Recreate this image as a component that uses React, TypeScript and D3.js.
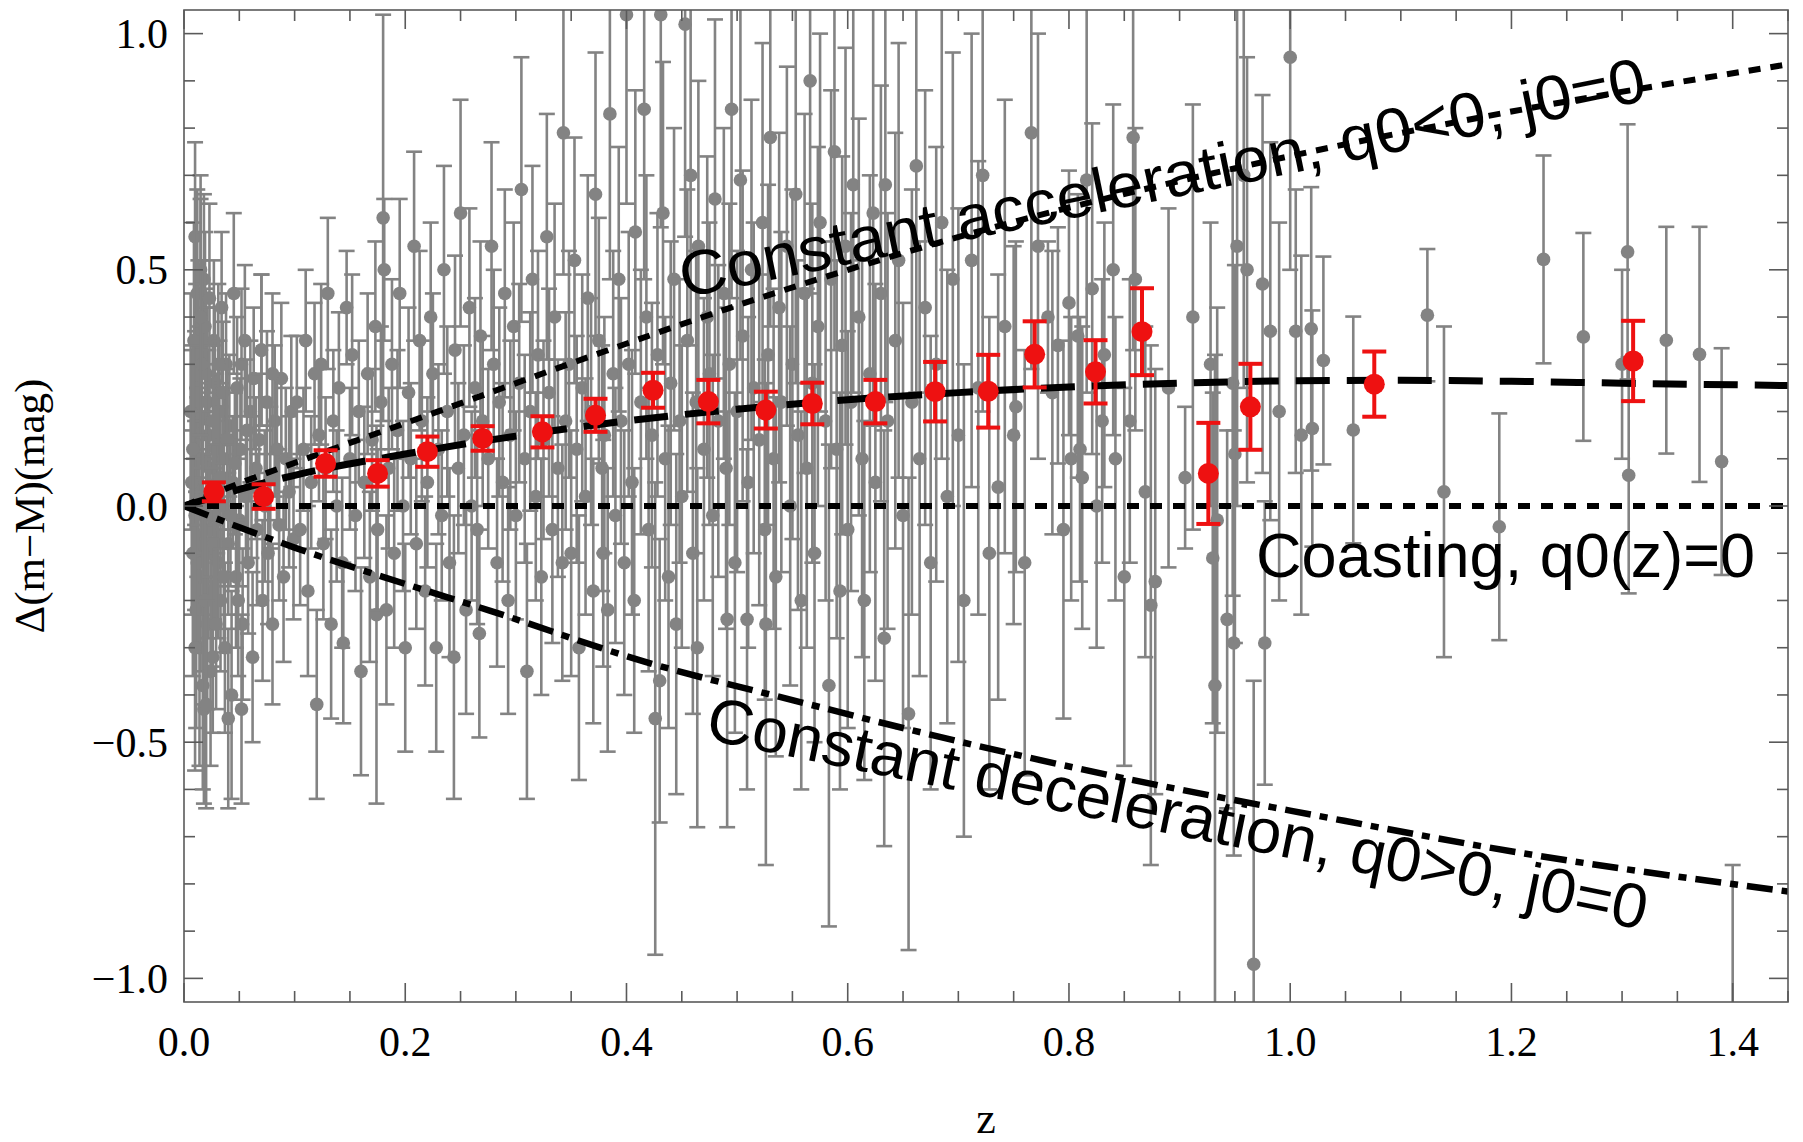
import React from "react";
import * as d3 from "d3";

const W = 1803;
const H = 1142;

// axis ticks
const xMajor = [0, 0.2, 0.4, 0.6, 0.8, 1.0, 1.2, 1.4];
const xLabels = ["0.0", "0.2", "0.4", "0.6", "0.8", "1.0", "1.2", "1.4"];
const yMajor = [-1, -0.5, 0, 0.5, 1];
const yLabels = ["\u22121.0", "\u22120.5", "0.0", "0.5", "1.0"];

// binned data (red)
const redZ = [0.027, 0.072, 0.128, 0.175, 0.22, 0.27, 0.324, 0.372, 0.424, 0.474, 0.526, 0.568, 0.625, 0.679, 0.727, 0.769, 0.824, 0.866, 0.926, 0.964, 1.076, 1.31];
const redD = [0.03, 0.02, 0.09, 0.069, 0.115, 0.143, 0.157, 0.192, 0.245, 0.221, 0.203, 0.217, 0.221, 0.242, 0.243, 0.321, 0.284, 0.369, 0.069, 0.21, 0.258, 0.307];
const redErr = [0.02, 0.026, 0.028, 0.028, 0.032, 0.026, 0.033, 0.035, 0.037, 0.046, 0.039, 0.044, 0.046, 0.063, 0.077, 0.07, 0.067, 0.092, 0.107, 0.091, 0.069, 0.085];

// individual SNe (gray): [z, delta, sigma]
const grayLowZ: number[][] = [
  [0.010, 0.57, 0.20], [0.012, 0.45, 0.22], [0.015, 0.50, 0.20], [0.018, 0.48, 0.18], [0.013, 0.32, 0.20],
  [0.011, 0.25, 0.22], [0.014, 0.18, 0.20], [0.016, 0.10, 0.22], [0.012, 0.05, 0.20], [0.010, -0.02, 0.20],
  [0.013, -0.08, 0.22], [0.015, -0.15, 0.20], [0.011, -0.22, 0.25], [0.014, -0.30, 0.25], [0.017, -0.38, 0.22],
  [0.012, -0.12, 0.18], [0.019, 0.38, 0.20], [0.020, 0.28, 0.18], [0.021, 0.22, 0.20], [0.022, 0.15, 0.18],
  [0.023, 0.08, 0.18], [0.020, 0.02, 0.18], [0.024, -0.05, 0.16], [0.022, -0.10, 0.18], [0.025, -0.18, 0.16],
  [0.021, -0.25, 0.18], [0.026, -0.32, 0.16], [0.018, -0.43, 0.20], [0.027, 0.35, 0.17], [0.028, 0.26, 0.16],
  [0.029, 0.12, 0.16], [0.030, 0.05, 0.15], [0.028, -0.02, 0.15], [0.031, -0.12, 0.16], [0.032, 0.20, 0.15],
  [0.033, -0.20, 0.15], [0.034, 0.42, 0.16], [0.035, 0.00, 0.14], [0.036, 0.10, 0.15], [0.037, -0.30, 0.18],
  [0.038, 0.30, 0.15], [0.040, -0.08, 0.15], [0.041, 0.17, 0.15], [0.043, -0.40, 0.22], [0.044, 0.05, 0.14],
  [0.045, 0.45, 0.17], [0.047, -0.15, 0.15], [0.048, 0.25, 0.15], [0.050, -0.03, 0.14], [0.051, 0.12, 0.15],
  [0.053, -0.25, 0.16], [0.055, 0.35, 0.16], [0.056, 0.02, 0.14], [0.058, -0.12, 0.15], [0.060, 0.20, 0.15],
  [0.062, -0.32, 0.18], [0.063, 0.27, 0.15], [0.065, 0.08, 0.15], [0.066, -0.05, 0.16], [0.068, 0.14, 0.14],
  [0.070, 0.33, 0.16], [0.071, -0.20, 0.17], [0.073, 0.00, 0.16], [0.075, 0.22, 0.15], [0.076, -0.10, 0.15],
  [0.078, 0.06, 0.15], [0.080, -0.25, 0.17], [0.082, 0.18, 0.16], [0.084, 0.12, 0.15], [0.086, -0.04, 0.16],
  [0.088, 0.27, 0.16], [0.090, -0.15, 0.18], [0.092, 0.10, 0.15], [0.095, 0.03, 0.16], [0.097, 0.20, 0.16],
  [0.099, -0.07, 0.17], [0.006, 0.20, 0.25], [0.007, 0.05, 0.28], [0.008, -0.10, 0.26], [0.009, 0.35, 0.25],
  [0.008, 0.12, 0.22], [0.010, -0.30, 0.26], [0.016, 0.30, 0.22], [0.017, 0.00, 0.20], [0.019, -0.20, 0.22],
  [0.015, 0.40, 0.25], [0.023, 0.44, 0.20], [0.024, -0.35, 0.20], [0.026, 0.18, 0.16], [0.027, -0.08, 0.16],
  [0.029, -0.25, 0.18], [0.031, 0.30, 0.17], [0.033, 0.06, 0.15], [0.035, 0.24, 0.15], [0.036, -0.15, 0.16],
  [0.039, 0.14, 0.15], [0.042, -0.02, 0.15], [0.046, 0.09, 0.15], [0.049, -0.20, 0.16], [0.052, 0.30, 0.16],
  [0.057, 0.16, 0.15], [0.061, 0.04, 0.15], [0.020, -0.42, 0.22], [0.052, -0.43, 0.20], [0.040, -0.45, 0.19],
  [0.070, 0.33, 0.16], [0.080, 0.28, 0.17],
];

const grayMidZ: number[][] = [
  [0.102, 0.22, 0.14], [0.105, -0.05, 0.16], [0.108, 0.12, 0.13], [0.110, 0.35, 0.15], [0.112, -0.18, 0.18],
  [0.115, 0.05, 0.14], [0.118, 0.28, 0.15], [0.120, -0.42, 0.20], [0.122, 0.15, 0.14], [0.124, 0.30, 0.17],
  [0.126, -0.08, 0.16], [0.128, 0.08, 0.15], [0.130, 0.45, 0.16], [0.133, -0.25, 0.20], [0.135, 0.18, 0.15],
  [0.138, 0.00, 0.16], [0.140, 0.25, 0.16], [0.143, -0.12, 0.18], [0.144, -0.29, 0.17], [0.147, 0.42, 0.12],
  [0.150, 0.10, 0.15], [0.152, 0.32, 0.17], [0.155, -0.02, 0.16], [0.158, 0.20, 0.15], [0.160, -0.35, 0.22],
  [0.163, 0.05, 0.16], [0.166, 0.28, 0.17], [0.168, -0.15, 0.18], [0.170, 0.14, 0.15], [0.173, 0.38, 0.18],
  [0.174, -0.23, 0.40], [0.175, -0.05, 0.17], [0.178, 0.22, 0.16], [0.180, 0.61, 0.43], [0.181, 0.50, 0.15],
  [0.183, -0.22, 0.20], [0.185, 0.08, 0.17], [0.188, 0.30, 0.18], [0.190, -0.10, 0.20], [0.193, 0.16, 0.17],
  [0.195, 0.45, 0.20], [0.198, 0.00, 0.18], [0.200, -0.30, 0.22], [0.203, 0.24, 0.18], [0.205, 0.10, 0.16],
  [0.208, 0.55, 0.20], [0.210, -0.08, 0.18], [0.213, 0.35, 0.19], [0.215, 0.18, 0.17], [0.218, -0.18, 0.20],
  [0.220, 0.05, 0.18], [0.223, 0.40, 0.20], [0.225, 0.28, 0.17], [0.228, -0.30, 0.22], [0.230, 0.12, 0.18],
  [0.233, -0.02, 0.18], [0.235, 0.50, 0.22], [0.238, 0.20, 0.18], [0.240, -0.12, 0.20], [0.244, -0.32, 0.30],
  [0.245, 0.33, 0.20], [0.248, 0.08, 0.18], [0.250, 0.62, 0.24], [0.253, 0.15, 0.19], [0.255, -0.22, 0.22],
  [0.258, 0.42, 0.21], [0.260, 0.00, 0.20], [0.263, 0.25, 0.19], [0.265, -0.05, 0.20], [0.267, -0.27, 0.22],
  [0.268, 0.36, 0.20], [0.270, 0.18, 0.18], [0.275, 0.10, 0.19], [0.278, 0.55, 0.22], [0.280, 0.30, 0.20],
  [0.283, -0.12, 0.22], [0.285, 0.22, 0.20], [0.288, 0.05, 0.21], [0.290, 0.45, 0.22], [0.293, -0.20, 0.24],
  [0.295, 0.15, 0.20], [0.298, 0.38, 0.22], [0.300, -0.02, 0.22], [0.303, 0.26, 0.21], [0.305, 0.67, 0.28],
  [0.308, 0.10, 0.22], [0.310, -0.35, 0.27], [0.313, 0.20, 0.21], [0.315, 0.48, 0.24], [0.318, 0.02, 0.22],
  [0.320, 0.32, 0.22], [0.323, -0.15, 0.25], [0.325, 0.14, 0.21], [0.328, 0.57, 0.26], [0.330, 0.24, 0.22],
  [0.333, -0.05, 0.24], [0.335, 0.40, 0.24], [0.338, 0.08, 0.23], [0.342, -0.12, 0.25], [0.343, 0.79, 0.30],
  [0.345, 0.18, 0.23], [0.348, 0.30, 0.24], [0.350, -0.10, 0.26], [0.353, 0.52, 0.26], [0.355, 0.12, 0.24],
  [0.357, -0.30, 0.28], [0.360, 0.25, 0.24], [0.363, 0.02, 0.25], [0.365, 0.44, 0.26], [0.368, 0.20, 0.24],
  [0.370, -0.18, 0.28], [0.372, 0.66, 0.30], [0.375, 0.35, 0.26], [0.378, 0.08, 0.26], [0.379, -0.10, 0.24],
  [0.380, 0.15, 0.25], [0.383, -0.22, 0.30], [0.385, 0.83, 0.35], [0.388, 0.28, 0.26], [0.390, -0.02, 0.27],
  [0.393, 0.48, 0.28], [0.395, 0.18, 0.26], [0.398, -0.12, 0.28],
];

const grayHighZ: number[][] = [
  [0.400, 1.04, 0.40], [0.402, 0.30, 0.28], [0.405, 0.05, 0.28], [0.407, -0.20, 0.28], [0.408, 0.58, 0.30],
  [0.413, 0.22, 0.28], [0.416, 0.84, 0.36], [0.418, 0.40, 0.30], [0.420, -0.05, 0.30], [0.423, 0.15, 0.28],
  [0.426, -0.45, 0.50], [0.428, 0.32, 0.30], [0.430, -0.37, 0.30], [0.431, 1.04, 0.45], [0.433, 0.62, 0.32],
  [0.435, 0.10, 0.30], [0.438, -0.15, 0.32], [0.440, 0.26, 0.30], [0.443, 0.48, 0.32], [0.445, -0.25, 0.36],
  [0.448, 0.18, 0.30], [0.450, 0.02, 0.32], [0.453, 1.02, 0.45], [0.455, 0.35, 0.32], [0.458, 0.70, 0.36],
  [0.460, -0.10, 0.34], [0.463, 0.22, 0.32], [0.464, -0.30, 0.38], [0.465, 0.55, 0.35], [0.470, 0.12, 0.32],
  [0.473, 0.40, 0.34], [0.475, 0.28, 0.32], [0.478, -0.02, 0.34], [0.480, 0.65, 0.38], [0.483, 0.18, 0.33],
  [0.488, 0.45, 0.35], [0.490, 0.08, 0.34], [0.491, -0.24, 0.44], [0.493, 0.30, 0.34], [0.495, 0.84, 0.40],
  [0.498, -0.12, 0.36], [0.500, 0.20, 0.34], [0.503, 0.69, 0.38], [0.505, 0.36, 0.35], [0.509, -0.24, 0.36],
  [0.510, 0.05, 0.35], [0.513, 0.50, 0.36], [0.515, 0.25, 0.35], [0.520, 0.14, 0.35], [0.523, 0.60, 0.38],
  [0.525, -0.05, 0.36], [0.526, -0.25, 0.51], [0.528, 0.32, 0.36], [0.530, 0.78, 0.40], [0.533, 0.10, 0.36],
  [0.535, -0.15, 0.38], [0.538, 0.42, 0.37], [0.540, 0.22, 0.36], [0.545, 0.55, 0.38], [0.548, 0.00, 0.38],
  [0.550, 0.30, 0.37], [0.553, 0.66, 0.40], [0.555, 0.15, 0.37], [0.558, -0.20, 0.40], [0.561, 0.45, 0.38],
  [0.563, 0.08, 0.38], [0.566, 0.90, 0.45], [0.568, 0.26, 0.38], [0.570, -0.10, 0.40], [0.573, 0.38, 0.38],
  [0.575, 0.60, 0.40], [0.580, 0.18, 0.38], [0.583, -0.38, 0.51], [0.585, 0.48, 0.40], [0.588, 0.75, 0.42],
  [0.590, 0.12, 0.40], [0.593, -0.18, 0.42], [0.595, 0.34, 0.40], [0.598, 0.55, 0.42], [0.600, -0.05, 0.42],
  [0.603, 0.22, 0.40], [0.605, 0.68, 0.44], [0.610, 0.40, 0.42], [0.613, 0.10, 0.42], [0.615, -0.20, 0.38],
  [0.620, 0.28, 0.42], [0.623, 0.62, 0.45], [0.625, 0.05, 0.42], [0.630, 0.45, 0.44], [0.633, -0.28, 0.44],
  [0.634, 0.68, 0.46], [0.636, 0.18, 0.44], [0.643, 0.35, 0.44], [0.646, 0.52, 0.46], [0.650, -0.02, 0.45],
  [0.655, -0.44, 0.50], [0.658, 0.22, 0.45], [0.662, 0.72, 0.48], [0.665, 0.10, 0.46], [0.670, 0.42, 0.46],
  [0.675, -0.12, 0.48], [0.680, 0.30, 0.46], [0.685, 0.60, 0.50], [0.690, 0.02, 0.48], [0.695, 0.48, 0.48],
  [0.700, 0.15, 0.48], [0.705, -0.20, 0.50], [0.712, 0.52, 0.48], [0.718, 0.25, 0.48], [0.722, 0.70, 0.50],
  [0.728, -0.10, 0.50], [0.736, 0.04, 0.45], [0.742, 0.38, 0.48], [0.750, 0.15, 0.40], [0.752, 0.21, 0.35],
  [0.760, -0.12, 0.45], [0.766, 0.79, 0.50], [0.772, 0.55, 0.45], [0.781, 0.40, 0.16], [0.785, 0.24, 0.30],
  [0.790, 0.34, 0.25], [0.795, -0.05, 0.40], [0.800, 0.43, 0.28], [0.802, 0.10, 0.30], [0.808, 0.36, 0.30],
  [0.810, 0.12, 0.28], [0.812, 0.06, 0.32], [0.816, 0.69, 0.45], [0.821, 0.46, 0.35], [0.825, 0.00, 0.30],
  [0.830, 0.18, 0.30], [0.832, 0.32, 0.28], [0.840, 0.50, 0.35], [0.842, 0.10, 0.30], [0.850, -0.15, 0.40],
  [0.855, 0.18, 0.30], [0.858, 0.78, 0.45], [0.860, 0.48, 0.32], [0.869, 0.03, 0.35], [0.874, -0.21, 0.55],
  [0.878, -0.16, 0.45], [0.890, 0.25, 0.38], [0.905, 0.06, 0.15], [0.912, 0.40, 0.45], [0.928, 0.30, 0.30],
  [0.930, -0.11, 0.35], [0.932, -0.38, 0.70], [0.934, -0.03, 0.45], [0.943, -0.24, 0.40], [0.948, 0.26, 0.45],
  [0.949, -0.29, 0.45], [0.950, 0.11, 0.40], [0.952, 0.55, 0.55], [0.958, 0.70, 0.45], [0.961, 0.50, 0.45],
  [0.967, -0.97, 0.60], [0.975, 0.47, 0.40], [0.977, -0.29, 0.30], [0.982, 0.37, 0.40], [0.990, 0.20, 0.40],
  [1.000, 0.95, 0.45], [1.005, 0.37, 0.30], [1.010, 0.15, 0.38], [1.019, 0.375, 0.30], [1.020, 0.164, 0.25],
  [1.030, 0.308, 0.22], [1.057, 0.161, 0.24], [1.124, 0.404, 0.14], [1.139, 0.03, 0.35], [1.189, -0.044, 0.24],
  [1.229, 0.522, 0.22], [1.265, 0.358, 0.22], [1.300, 0.30, 0.20], [1.305, 0.538, 0.27], [1.306, 0.065, 0.25],
  [1.340, 0.351, 0.24], [1.370, 0.321, 0.27], [1.390, 0.094, 0.24], [1.400, -1.15, 0.39],
];

// model curves
const accelZ = [0, 0.05, 0.115, 0.233, 0.375, 0.493, 0.68, 0.977, 1.2, 1.45];
const accelD = [0, 0.048, 0.104, 0.203, 0.323, 0.419, 0.556, 0.729, 0.835, 0.935];
const fitZ = [0, 0.05, 0.1, 0.2, 0.3, 0.4, 0.5, 0.6, 0.7, 0.8, 0.9, 1.0, 1.1, 1.2, 1.3, 1.45];
const fitD = [0, 0.035, 0.065, 0.11, 0.148, 0.18, 0.205, 0.225, 0.24, 0.252, 0.26, 0.265, 0.266, 0.264, 0.26, 0.255];
const coastZ = [0, 1.45];
const coastD = [0, 0];
const decelZ = [0, 0.05, 0.1, 0.2, 0.277, 0.417, 0.557, 0.65, 0.837, 1.023, 1.21, 1.45];
const decelD = [0, -0.045, -0.088, -0.165, -0.222, -0.33, -0.415, -0.47, -0.57, -0.655, -0.735, -0.816];

const GRAY = "#838383";
const RED = "#ee1111";
const FRAME = "#5a5a5a";
const SERIF = "'Liberation Serif', 'Times New Roman', serif";
const SANS = "'Liberation Sans', Arial, sans-serif";

export default function App() {
  const x = d3.scaleLinear().domain([0, 1.45]).range([184, 1788]);
  const y = d3.scaleLinear().domain([-1.05, 1.05]).range([1002, 10]);
  const [x0, x1] = x.range();
  const [y0, y1] = y.range();

  const line = d3.line<number>().curve(d3.curveMonotoneX);
  const mk = (zs: number[], ds: number[]) =>
    line.x((_, i) => x(zs[i])).y((_, i) => y(ds[i]))(zs) || "";

  const gray = [...grayLowZ, ...grayMidZ, ...grayHighZ];

  const xMinor = d3.range(0.05, 1.451, 0.05).filter((v) => Math.abs(v / 0.2 - Math.round(v / 0.2)) > 1e-6);
  const yMinor = d3.range(-1.0, 1.001, 0.1).filter((v) => Math.abs(v / 0.5 - Math.round(v / 0.5)) > 1e-6);

  const gCap = 8;
  const rCap = 12;

  return (
    <svg width={W} height={H} style={{ position: "absolute", left: 0, top: 0, background: "#fff" }}>
      <defs>
        <clipPath id="plot">
          <rect x={x0} y={y1} width={x1 - x0} height={y0 - y1} />
        </clipPath>
      </defs>
      <rect x={0} y={0} width={W} height={H} fill="#fff" />

      <g clipPath="url(#plot)">
        {/* gray individual points */}
        <g stroke={GRAY} strokeWidth={2.6} fill={GRAY}>
          {gray.map((p, i) => {
            const cx = x(p[0]);
            const top = y(p[1] + p[2]);
            const bot = y(p[1] - p[2]);
            return (
              <g key={"g" + i}>
                <line x1={cx} x2={cx} y1={top} y2={bot} />
                <line x1={cx - gCap} x2={cx + gCap} y1={top} y2={top} />
                <line x1={cx - gCap} x2={cx + gCap} y1={bot} y2={bot} />
                <circle cx={cx} cy={y(p[1])} r={6.8} stroke="none" />
              </g>
            );
          })}
        </g>

        {/* model curves */}
        <path d={mk(accelZ, accelD)} fill="none" stroke="#000" strokeWidth={6} strokeDasharray="12,10" />
        <path d={mk(coastZ, coastD)} fill="none" stroke="#000" strokeWidth={6} strokeDasharray="12,11" />
        <path d={mk(decelZ, decelD)} fill="none" stroke="#000" strokeWidth={6.5} strokeDasharray="26,9,8,9" />
        <path d={mk(fitZ, fitD)} fill="none" stroke="#000" strokeWidth={7} strokeDasharray="34,17" />

        {/* binned red points */}
        <g stroke={RED} strokeWidth={4} fill={RED}>
          {redZ.map((z, i) => {
            const cx = x(z);
            const top = y(redD[i] + redErr[i]);
            const bot = y(redD[i] - redErr[i]);
            return (
              <g key={"r" + i}>
                <line x1={cx} x2={cx} y1={top} y2={bot} />
                <line x1={cx - rCap} x2={cx + rCap} y1={top} y2={top} />
                <line x1={cx - rCap} x2={cx + rCap} y1={bot} y2={bot} />
                <circle cx={cx} cy={y(redD[i])} r={10.5} stroke="none" />
              </g>
            );
          })}
        </g>
      </g>

      {/* frame */}
      <g stroke={FRAME} strokeWidth={1.6} fill="none">
        <rect x={x0} y={y1} width={x1 - x0} height={y0 - y1} />
        {xMajor.map((v) => (
          <g key={"xm" + v}>
            <line x1={x(v)} x2={x(v)} y1={y0} y2={y0 - 19} />
            <line x1={x(v)} x2={x(v)} y1={y1} y2={y1 + 19} />
          </g>
        ))}
        {xMinor.map((v) => (
          <g key={"xn" + v}>
            <line x1={x(v)} x2={x(v)} y1={y0} y2={y0 - 11} />
            <line x1={x(v)} x2={x(v)} y1={y1} y2={y1 + 11} />
          </g>
        ))}
        {yMajor.map((v) => (
          <g key={"ym" + v}>
            <line x1={x0} x2={x0 + 19} y1={y(v)} y2={y(v)} />
            <line x1={x1} x2={x1 - 19} y1={y(v)} y2={y(v)} />
          </g>
        ))}
        {yMinor.map((v) => (
          <g key={"yn" + v}>
            <line x1={x0} x2={x0 + 11} y1={y(v)} y2={y(v)} />
            <line x1={x1} x2={x1 - 11} y1={y(v)} y2={y(v)} />
          </g>
        ))}
      </g>

      {/* tick labels */}
      <g fontFamily={SERIF} fontSize={42} fill="#000">
        {xMajor.map((v, i) => (
          <text key={"xl" + i} x={x(v)} y={1056} textAnchor="middle">
            {xLabels[i]}
          </text>
        ))}
        {yMajor.map((v, i) => (
          <text key={"yl" + i} x={168} y={y(v) + 14.5} textAnchor="end">
            {yLabels[i]}
          </text>
        ))}
      </g>

      {/* axis titles */}
      <text x={(x0 + x1) / 2} y={1133} textAnchor="middle" fontFamily={SERIF} fontSize={44}>
        z
      </text>
      <text
        transform={`translate(44, ${(y0 + y1) / 2}) rotate(-90)`}
        textAnchor="middle"
        fontFamily={SERIF}
        fontSize={43}
      >
        {"\u0394(m\u2212M)(mag)"}
      </text>

      {/* curve labels */}
      <g fontFamily={SANS} fontSize={63} fill="#000">
        <text
          transform="translate(684, 298) rotate(-11.6)"
          textLength={985}
          lengthAdjust="spacingAndGlyphs"
        >
          Constant acceleration, q0&lt;0, j0=0
        </text>
        <text transform="translate(1256, 577)">Coasting, q0(z)=0</text>
        <text
          transform="translate(704, 739) rotate(11.5)"
          textLength={958}
          lengthAdjust="spacingAndGlyphs"
        >
          Constant deceleration, q0&gt;0, j0=0
        </text>
      </g>
    </svg>
  );
}
